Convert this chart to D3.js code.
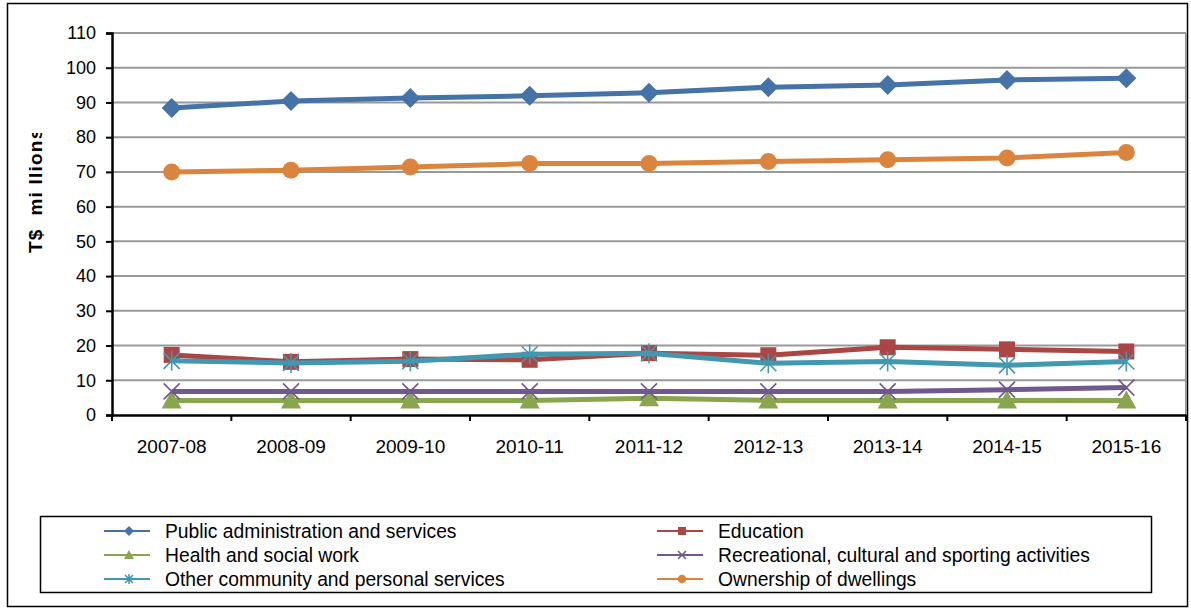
<!DOCTYPE html>
<html>
<head>
<meta charset="utf-8">
<script src="https://cdn.jsdelivr.net/npm/d3@7"></script>
<style>
  body { margin: 0; background: #fff; }
  text { font-family: "Liberation Sans", Arial, sans-serif; }
</style>
</head>
<body>
<svg id="chart" width="1191" height="609"></svg>
<script>
// categories and series
const years = ["2007-08", "2008-09", "2009-10", "2010-11", "2011-12", "2012-13", "2013-14", "2014-15", "2015-16"]
const yTicks = [0, 10, 20, 30, 40, 50, 60, 70, 80, 90, 100, 110]

const publicAdmin = [88.4, 90.4, 91.3, 91.9, 92.8, 94.4, 95.0, 96.5, 97.0]
const education = [17.3, 15.3, 16.1, 15.9, 17.8, 17.2, 19.5, 18.9, 18.3]
const health = [4.2, 4.2, 4.2, 4.2, 4.8, 4.2, 4.2, 4.2, 4.2]
const recreational = [6.8, 6.8, 6.8, 6.8, 6.8, 6.8, 6.8, 7.3, 7.9]
const otherCommunity = [15.6, 15.0, 15.5, 17.5, 17.8, 14.9, 15.4, 14.3, 15.4]
const dwellings = [70.0, 70.5, 71.4, 72.4, 72.4, 73.0, 73.5, 74.0, 75.6]

const series = [
    {name: "Public administration and services", values: publicAdmin, color: "#4572A7", marker: "diamond"},
    {name: "Education", values: education, color: "#AA4643", marker: "square"},
    {name: "Health and social work", values: health, color: "#89A54E", marker: "triangle"},
    {name: "Recreational, cultural and sporting activities", values: recreational, color: "#71588F", marker: "x"},
    {name: "Other community and personal services", values: otherCommunity, color: "#4198AF", marker: "star"},
    {name: "Ownership of dwellings", values: dwellings, color: "#DB843D", marker: "circle"}
]

const svg = d3.select("#chart")

// outer frame
svg.append("rect").attr("x", 7.5).attr("y", 3.5).attr("width", 1180).attr("height", 603)
  .attr("fill", "none").attr("stroke", "#000").attr("stroke-width", 1.5)

const plotLeft = 112, plotRight = 1186, plotTop = 33, plotBottom = 415

const x = d3.scaleBand().domain(years).range([plotLeft, plotRight])
const y = d3.scaleLinear().domain([0, 110]).range([plotBottom, plotTop])

// grid
svg.append("g").selectAll("line").data(yTicks.filter(d => d > 0)).enter().append("line")
  .attr("x1", plotLeft).attr("x2", plotRight)
  .attr("y1", d => y(d)).attr("y2", d => y(d))
  .attr("stroke", "#999").attr("stroke-width", 2)

// right edge of plot
svg.append("line").attr("x1", plotRight).attr("x2", plotRight).attr("y1", plotTop).attr("y2", plotBottom)
  .attr("stroke", "#999").attr("stroke-width", 2)

// y axis
const yAxis = svg.append("g").attr("transform", `translate(${plotLeft},0)`)
  .call(d3.axisLeft(y).tickValues(yTicks).tickSize(6).tickPadding(10))
yAxis.select(".domain").attr("stroke", "#000").attr("stroke-width", 2.5)
yAxis.selectAll(".tick line").attr("stroke", "#000").attr("stroke-width", 2)
yAxis.selectAll("text").attr("font-size", 18).attr("fill", "#000")
  .style("font-family", "'Liberation Sans', Arial, sans-serif")

// x axis
const xAxis = svg.append("g").attr("transform", `translate(0,${plotBottom})`)
  .call(d3.axisBottom(x).tickSize(0).tickPadding(25))
xAxis.select(".domain").attr("stroke", "#000").attr("stroke-width", 2.5)
xAxis.selectAll("text").attr("font-size", 19).attr("fill", "#000")
  .style("font-family", "'Liberation Sans', Arial, sans-serif")
// category boundary ticks
svg.append("g").selectAll("line").data(years.concat(["end"])).enter().append("line")
  .attr("x1", (d, i) => plotLeft + i * x.step()).attr("x2", (d, i) => plotLeft + i * x.step())
  .attr("y1", plotBottom).attr("y2", plotBottom + 6)
  .attr("stroke", "#000").attr("stroke-width", 2)

// y title, clipped like the original
svg.append("clipPath").attr("id", "ytclip").append("rect")
  .attr("x", 0).attr("y", 133).attr("width", 80).attr("height", 200)
svg.append("g").attr("clip-path", "url(#ytclip)")
  .append("text")
  .attr("transform", "translate(42,253) rotate(-90)")
  .attr("font-size", 19).attr("font-weight", "bold")
  .attr("letter-spacing", 1.2)
  .attr("xml:space", "preserve")
  .text("T$  mi llions")

function drawMarker(g, type, cx, cy, color, s) {
    if (type === "diamond") {
        g.append("path").attr("d", `M${cx},${cy - s}L${cx + s},${cy}L${cx},${cy + s}L${cx - s},${cy}Z`).attr("fill", color)
    } else if (type === "square") {
        g.append("rect").attr("x", cx - s * 0.8).attr("y", cy - s * 0.8).attr("width", s * 1.6).attr("height", s * 1.6).attr("fill", color)
    } else if (type === "triangle") {
        g.append("path").attr("d", `M${cx},${cy - s}L${cx + s},${cy + s * 0.8}L${cx - s},${cy + s * 0.8}Z`).attr("fill", color)
    } else if (type === "circle") {
        g.append("circle").attr("cx", cx).attr("cy", cy).attr("r", s * 0.85).attr("fill", color)
    } else if (type === "x") {
        const a = s * 0.8
        g.append("path").attr("d", `M${cx - a},${cy - a}L${cx + a},${cy + a}M${cx - a},${cy + a}L${cx + a},${cy - a}`)
          .attr("stroke", color).attr("stroke-width", 1.6)
    } else if (type === "star") {
        const a = s * 0.8
        g.append("path").attr("d", `M${cx - a},${cy - a}L${cx + a},${cy + a}M${cx - a},${cy + a}L${cx + a},${cy - a}M${cx},${cy - s}L${cx},${cy + s}`)
          .attr("stroke", color).attr("stroke-width", 1.6)
    }
}

const line = d3.line().x((d, i) => x(years[i]) + x.bandwidth() / 2).y(d => y(d))

// draw order so that cyan sits over red, as in the reference
const order = [2, 3, 1, 4, 5, 0]
order.forEach(k => {
    const s = series[k]
    const g = svg.append("g")
    g.append("path").datum(s.values).attr("d", line)
      .attr("fill", "none").attr("stroke", s.color).attr("stroke-width", 5)
      .attr("stroke-linejoin", "round")
    s.values.forEach((v, i) => {
        drawMarker(g, s.marker, x(years[i]) + x.bandwidth() / 2, y(v), s.color, 10)
    })
})

// legend
svg.append("rect").attr("x", 40.5).attr("y", 516.5).attr("width", 1111).attr("height", 76)
  .attr("fill", "none").attr("stroke", "#000").attr("stroke-width", 1.5)

series.forEach((s, i) => {
    const col = i % 2, row = Math.floor(i / 2)
    const lx = col === 0 ? 104 : 657
    const ly = 531 + row * 24
    const g = svg.append("g")
    g.append("line").attr("x1", lx).attr("x2", lx + 46).attr("y1", ly).attr("y2", ly)
      .attr("stroke", s.color).attr("stroke-width", 2)
    drawMarker(g, s.marker, lx + 25, ly, s.color, 5)
    g.append("text").attr("x", lx + 61).attr("y", ly + 7)
      .attr("font-size", 19.3).attr("fill", "#000").text(s.name)
})
</script>
</body>
</html>
